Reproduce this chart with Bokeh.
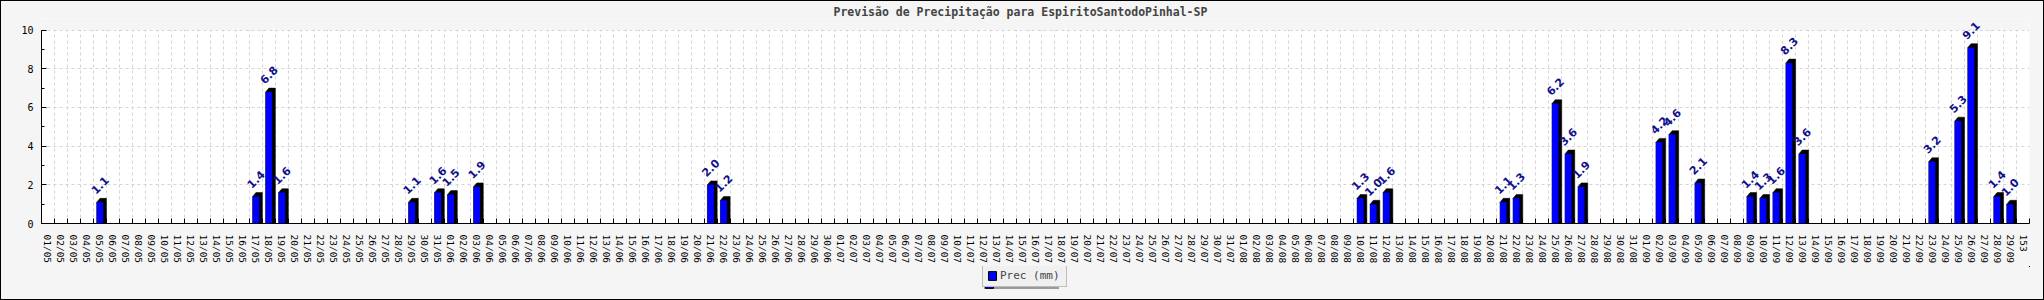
import math
import pandas as pd
from bokeh.plotting import figure
from bokeh.layouts import column
from bokeh.models import (ColumnDataSource, FixedTicker, SingleIntervalTicker, Legend,
                          LegendItem, Range1d, BoxAnnotation)
from bokeh.core.properties import value
from bokeh.embed import file_html
from bokeh.resources import INLINE

# ---- data ----
days = [d.strftime("%d/%m") for d in pd.date_range("2024-05-01", "2024-09-29")] + ["153"]
rain_days = ["05/05", "17/05", "18/05", "19/05", "29/05", "31/05", "01/06", "03/06",
             "21/06", "22/06", "10/08", "11/08", "12/08", "21/08", "22/08", "25/08",
             "26/08", "27/08", "02/09", "03/09", "05/09", "09/09", "10/09", "11/09",
             "12/09", "13/09", "23/09", "25/09", "26/09", "28/09", "29/09"]
rain_mm = [1.1, 1.4, 6.8, 1.6, 1.1, 1.6, 1.5, 1.9,
           2.0, 1.2, 1.3, 1.0, 1.6, 1.1, 1.3, 6.2,
           3.6, 1.9, 4.2, 4.6, 2.1, 1.4, 1.3, 1.6,
           8.3, 3.6, 3.2, 5.3, 9.1, 1.4, 1.0]
title_text = "Previsão de Precipitação para EspiritoSantodoPinhal-SP"
series_name = "Prec (mm)"
y_max = 10

# ---- derived positions ----
n = len(days)
xc = [days.index(d) + 0.5 for d in rain_days]
hw = 0.25      # half bar width (category units)
dx = 0.25      # 3d depth x
dy = 0.2       # 3d depth y
shade_xs = [[x - hw, x - hw + dx, x + hw + dx, x + hw + dx, x - hw] for x in xc]
shade_ys = [[v, v + dy, v + dy, 0, 0] for v in rain_mm]
src = ColumnDataSource(dict(x=xc, top=rain_mm, lbl=[f"{v:.1f}" for v in rain_mm]))

BG = "#f5f5f5"
W = 2042
H1, H2 = 265, 33
top_pad = 0.6   # room above the value axis so top labels are not clipped
p = figure(width=W, height=H1, output_backend="svg", toolbar_location=None,
           x_range=Range1d(0, n), y_range=Range1d(0, y_max + top_pad),
           min_border_left=40, min_border_right=14, min_border_top=17, min_border_bottom=36)
p.border_fill_color = BG
p.background_fill_color = "white"
p.outline_line_color = None

p.title.text = title_text
p.title.align = "left"
p.title.offset = 792
p.title.text_font = "DejaVu Sans Mono"
p.title.text_font_style = "bold"
p.title.text_font_size = "11.5px"
p.title.standoff = 0

# grids
p.xgrid.ticker = FixedTicker(ticks=list(range(1, n + 1)))
p.ygrid.ticker = SingleIntervalTicker(interval=2)
for g in (p.xgrid, p.ygrid):
    g.grid_line_color = "#d4d4d4"
    g.grid_line_dash = "3 3"
# band above the value axis maximum takes the page background colour
p.add_layout(BoxAnnotation(bottom=y_max, fill_color=BG, fill_alpha=1,
                           line_color=None, level="underlay"))

# x axis
xa = p.xaxis[0]
xa.ticker = FixedTicker(ticks=[i + 0.5 for i in range(n)], minor_ticks=list(range(0, n + 1)))
xa.major_label_overrides = {i + 0.5: days[i] for i in range(n)}
xa.major_label_orientation = "vertical"
xa.major_tick_line_color = None
xa.minor_tick_in = 5
xa.minor_tick_out = 0
xa.minor_tick_line_color = "black"
xa.major_label_text_font = "DejaVu Sans Mono"
xa.major_label_text_font_size = "9.5px"
xa.major_label_text_color = "black"
xa.major_label_standoff = 5
xa.axis_line_color = "black"

# y axis
ya = p.yaxis[0]
ya.ticker = SingleIntervalTicker(interval=2, num_minor_ticks=2)
ya.bounds = (0, y_max)
ya.major_tick_in = 5
ya.major_tick_out = 0
ya.minor_tick_in = 3
ya.minor_tick_out = 0
ya.major_tick_line_color = "black"
ya.minor_tick_line_color = "black"
ya.major_label_text_font = "DejaVu Sans Mono"
ya.major_label_text_font_size = "10px"
ya.major_label_text_color = "black"
ya.major_label_standoff = 8
ya.axis_line_color = "black"

# bars
p.patches(xs=shade_xs, ys=shade_ys, fill_color="black", line_color="black", line_width=0.5)
p.vbar(x="x", top="top", bottom=0, width=2 * hw, source=src,
       fill_color="#0000ff", line_color=None)
p.text(x="x", y="top", text="lbl", source=src, angle=math.pi / 4, text_align="center",
       text_baseline="middle", y_offset=-17, text_color="#10108a",
       text_font=value("DejaVu Sans"), text_font_style="bold", text_font_size="11px")

# legend strip (separate small figure below; its frame is aligned with the chart's frame)
q = figure(width=W, height=H2, output_backend="svg", toolbar_location=None,
           x_axis_type=None, y_axis_type=None,
           x_range=Range1d(-2, -1), y_range=Range1d(-2, -1), min_border=0)
q.border_fill_color = BG
q.background_fill_color = BG
q.outline_line_color = None
q.grid.visible = False
# legend key only: zero-size bars outside this strip's ranges, only the swatch shows
key = q.vbar(x="x", top=0, bottom=0, width=0, source=src,
             fill_color="#0000ff", line_color="black")
leg_kw = dict(orientation="horizontal", label_text_font="DejaVu Sans Mono",
              label_text_font_size="11px", glyph_width=10, glyph_height=11,
              padding=4, margin=0, label_standoff=3, label_height=11, label_width=62,
              spacing=0)
shadow = Legend(items=[LegendItem(label=" ", renderers=[key])],
                location=(943, 10), background_fill_color="#9a9a9a", background_fill_alpha=1,
                border_line_color=None, **leg_kw)
leg = Legend(items=[LegendItem(label=series_name, renderers=[key])],
             location=(941, 12), background_fill_color="#f0f0f0", background_fill_alpha=1,
             border_line_color="#8a8a8a", **leg_kw)
q.add_layout(shadow)
q.add_layout(leg)

page = column(p, q, spacing=0)
page.styles = {"border": "1px solid black", "background-color": BG}

open("out.html", "w").write(file_html(page, INLINE))
